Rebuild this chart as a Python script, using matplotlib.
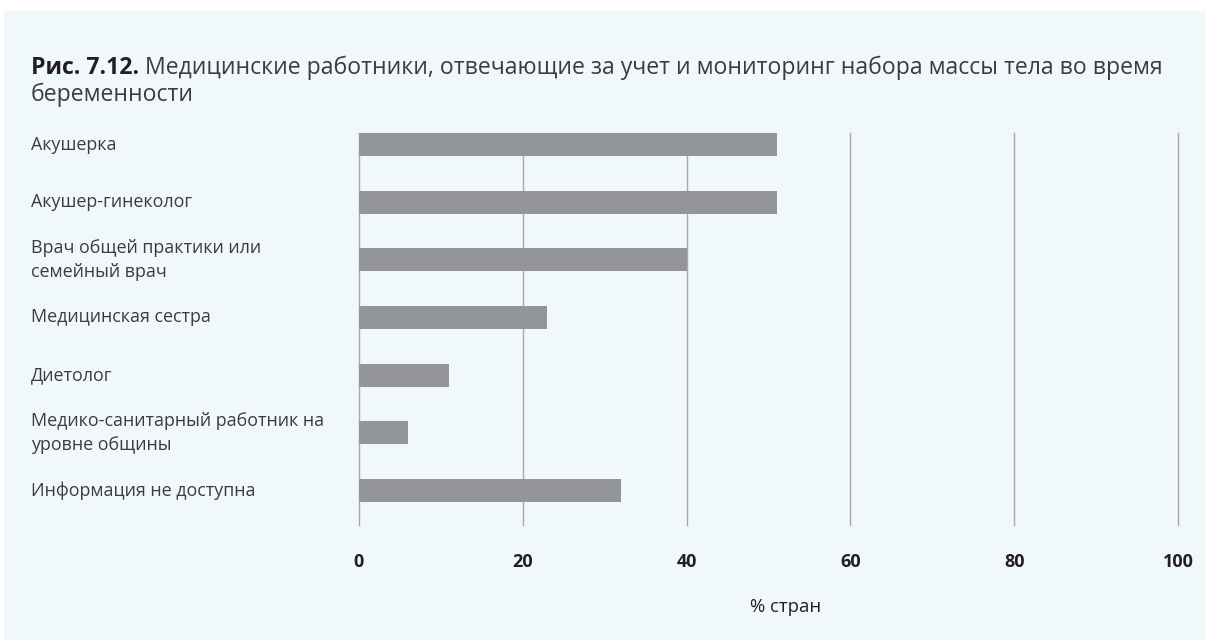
import matplotlib
matplotlib.use("Agg")
import matplotlib.pyplot as plt
from matplotlib.patches import Rectangle
from matplotlib.transforms import blended_transform_factory

categories = [
    "Акушерка",
    "Акушер-гинеколог",
    "Врач общей практики или\nсемейный врач",
    "Медицинская сестра",
    "Диетолог",
    "Медико-санитарный работник на\nуровне общины",
    "Информация не доступна",
]
values = [51, 51, 40, 23, 11, 6, 32]
xticks = [0, 20, 40, 60, 80, 100]
title_bold = "Рис. 7.12."
title_rest = " Медицинские работники, отвечающие за учет и мониторинг набора массы тела во время"
title_line2 = "беременности"
xlabel = "% стран"

FONT = "Open Sans"
plt.rcParams['font.family'] = [FONT, 'DejaVu Sans']

W, H = 1205, 640
fig = plt.figure(figsize=(W / 100, H / 100), dpi=100)
fig.patch.set_facecolor("white")
fig.patches.append(Rectangle((4 / W, 0), 1 - 4 / W, (H - 11) / H, transform=fig.transFigure,
                             facecolor="#F0F8FC", edgecolor="none", zorder=-10))

ax_l, ax_r = 359 / W, 1178 / W
ax_t, ax_b = 133, 525
ax = fig.add_axes([ax_l, (H - ax_b) / H, ax_r - ax_l, (ax_b - ax_t) / H])
ax.set_facecolor("none")
ax.set_zorder(5)

ypos = list(range(len(categories)))
ax.barh(ypos, values, height=0.4, color="#939598", zorder=3)
ax.set_xlim(0, 100)
ax.set_ylim(6.6, -0.2)
for t in xticks:
    ax.axvline(t, color="#A7A9AC", lw=1.0, zorder=1, clip_on=False)
for s in ax.spines.values():
    s.set_visible(False)
ax.set_yticks([])
ax.set_xticks(xticks)
ax.set_xticklabels([str(t) for t in xticks], fontsize=13, fontweight="bold", color="#231F20")
ax.tick_params(axis="x", length=0, pad=20)

trans = blended_transform_factory(fig.transFigure, ax.transData)
for y, c in zip(ypos, categories):
    ax.text(31 / W, y, c, transform=trans, ha="left", va="center", fontsize=12.9,
            color="#3C3C3C", linespacing=1.45, clip_on=False)

fig.text(786 / W, 1 - 607 / H, xlabel, ha="center", va="center", fontsize=13.3, color="#231F20")

t1 = fig.text(31 / W, 1 - 68 / H, title_bold, ha="left", va="center", fontsize=16.6,
              fontweight="bold", color="#231F20")
fig.canvas.draw()
bb = t1.get_window_extent()
fig.text(bb.x1 / W, 1 - 68 / H, title_rest, ha="left", va="center", fontsize=16.6, color="#3C3C3C")
fig.text(31 / W, 1 - 95 / H, title_line2, ha="left", va="center", fontsize=16.6, color="#3C3C3C")

fig.savefig("out.png", dpi=100, facecolor=fig.get_facecolor())
